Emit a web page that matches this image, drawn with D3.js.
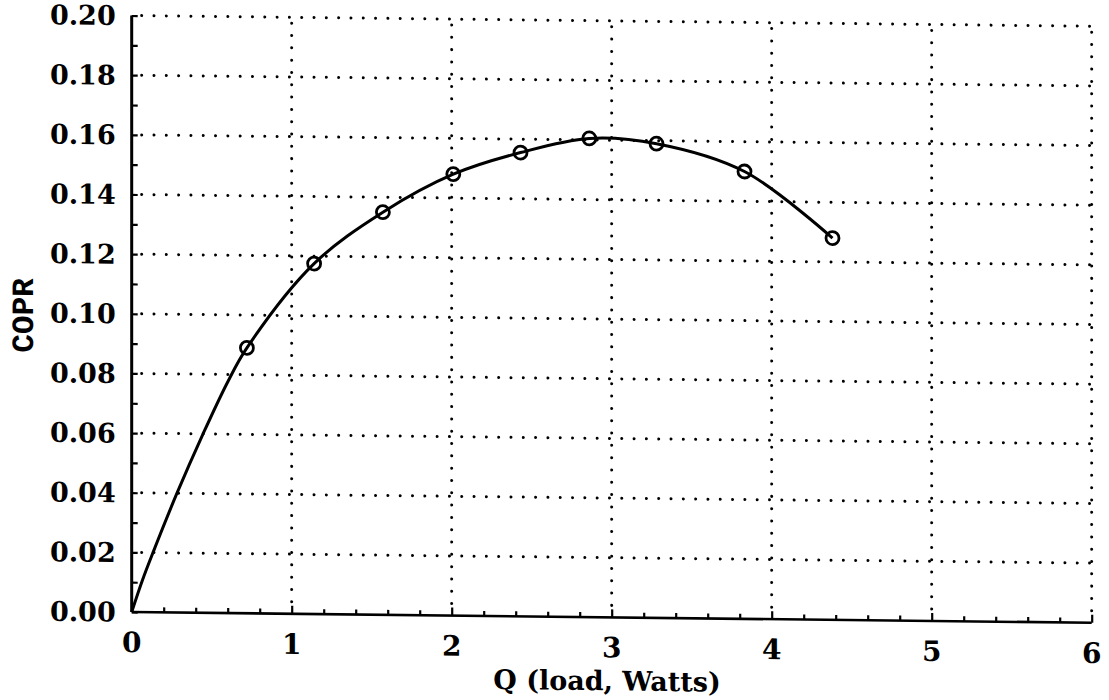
<!DOCTYPE html>
<html>
<head>
<meta charset="utf-8">
<script src="https://cdn.jsdelivr.net/npm/d3@7"></script>
<style>
  html, body { margin: 0; padding: 0; background: #fff; }
  svg { display: block; }
</style>
</head>
<body>
<svg id="chart" width="1109" height="700"></svg>
<script>
// ---- data ----
const measuredQ    = [0.72, 1.14, 1.57, 2.01, 2.43, 2.86, 3.28, 3.83, 4.38];
const measuredCOPR = [0.089, 0.1175, 0.135, 0.148, 0.1555, 0.1605, 0.159, 0.150, 0.128];
// extra points read along the drawn curve below the first marker
const curveQ    = [0, 0.067, 0.133, 0.283, 0.446, 0.60];
const curveCOPR = [0, 0.0107, 0.020, 0.040, 0.060, 0.0775];
const xTicks = [0, 1, 2, 3, 4, 5, 6];
const yTicks = [0.00, 0.02, 0.04, 0.06, 0.08, 0.10, 0.12, 0.14, 0.16, 0.18, 0.20];
const xTitle = "Q (load, Watts)";
const yTitle = "COPR";

// ---- layout ----
const svg = d3.select("#chart");
const x = d3.scaleLinear().domain([0, 6]).range([131.7, 1091.7]);
const y = d3.scaleLinear().domain([0, 0.2]).range([612, 15.5]);
const skew = Math.atan(0.0112) * 180 / Math.PI; // scanned page is slightly sheared
const g = svg.append("g")
  .attr("transform", `translate(${x(0)},0) skewY(${skew}) translate(${-x(0)},0)`);

const numFont = "'DejaVu Serif', serif";
const titleFont = "'DejaVu Serif', serif";
const monoFont = "'Liberation Mono', 'DejaVu Sans Mono', monospace";
const dot = { w: 3, dash: "0.01,12.3" };

// horizontal dotted grid lines (including top border)
g.append("g").selectAll("line").data(yTicks.filter(d => d > 0)).join("line")
  .attr("x1", x(0) + 10).attr("x2", x(6))
  .attr("y1", d => y(d)).attr("y2", d => y(d))
  .attr("stroke", "#000").attr("stroke-width", dot.w)
  .attr("stroke-linecap", "round").attr("stroke-dasharray", dot.dash);

// vertical dotted grid lines (including right border)
g.append("g").selectAll("line").data(xTicks.filter(d => d > 0)).join("line")
  .attr("x1", d => x(d)).attr("x2", d => x(d))
  .attr("y1", y(0) - 12).attr("y2", y(0.2))
  .attr("stroke", "#000").attr("stroke-width", dot.w)
  .attr("stroke-linecap", "round").attr("stroke-dasharray", dot.dash);

// bottom axis: ticks pointing inward (up)
const xAxis = d3.axisBottom(x)
  .tickValues(d3.range(0, 31).map(i => i / 5))
  .tickSize(-5).tickFormat("");
const xa = g.append("g").attr("transform", `translate(0,${y(0)})`).call(xAxis);
xa.select(".domain").attr("stroke-width", 2.6).attr("d", `M${x(0)},0H${x(6)}`);
xa.selectAll(".tick line").attr("stroke-width", 2.2)
  .attr("y2", d => Math.abs(d - Math.round(d)) < 1e-6 ? -8 : -5);

// x tick labels
g.append("g").selectAll("text").data(xTicks).join("text")
  .attr("x", d => x(d)).attr("y", y(0) + 40)
  .attr("text-anchor", "middle")
  .attr("font-family", numFont).attr("font-weight", "bold").attr("font-size", 28)
  .text(d => d);

// left axis: ticks pointing inward (right)
const yAxis = d3.axisLeft(y)
  .tickValues(d3.range(0, 21).map(i => i / 100))
  .tickSize(-6).tickFormat("");
const ya = g.append("g").attr("transform", `translate(${x(0)},0)`).call(yAxis);
ya.select(".domain").attr("stroke-width", 3).attr("d", `M0,${y(0)}V${y(0.2)}`);
ya.selectAll(".tick line").attr("stroke-width", 2.2);

// y tick labels
g.append("g").selectAll("text").data(yTicks).join("text")
  .attr("x", x(0) - 16).attr("y", d => y(d))
  .attr("dy", "0.36em")
  .attr("text-anchor", "end")
  .attr("font-family", numFont).attr("font-weight", "bold").attr("font-size", 27)
  .text(d => d.toFixed(2));

// axis titles
g.append("text")
  .attr("x", 607).attr("y", 685)
  .attr("text-anchor", "middle")
  .attr("font-family", titleFont).attr("font-weight", "bold").attr("font-size", 27)
  .text(xTitle);
g.append("text")
  .attr("transform", `translate(33,${y(0.099)}) rotate(-90)`)
  .attr("text-anchor", "middle")
  .attr("font-family", monoFont).attr("font-weight", "bold").attr("font-size", 31)
  .text(yTitle);

// fitted curve
const linePts = curveQ.map((q, i) => [q, curveCOPR[i]])
  .concat(measuredQ.map((q, i) => [q, measuredCOPR[i]]));
const line = d3.line().x(d => x(d[0])).y(d => y(d[1])).curve(d3.curveCatmullRom.alpha(0.5));
g.append("path").datum(linePts)
  .attr("d", line).attr("fill", "none")
  .attr("stroke", "#000").attr("stroke-width", 3);

// measured points
g.append("g").selectAll("circle").data(measuredQ.map((q, i) => [q, measuredCOPR[i]])).join("circle")
  .attr("cx", d => x(d[0])).attr("cy", d => y(d[1])).attr("r", 6.5)
  .attr("fill", "none").attr("stroke", "#000").attr("stroke-width", 2.8);
</script>
</body>
</html>
